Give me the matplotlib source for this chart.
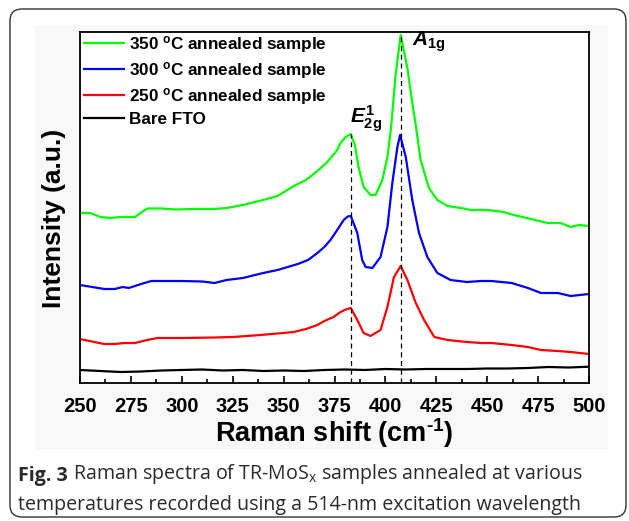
import matplotlib
matplotlib.use("Agg")
import matplotlib.pyplot as plt
from matplotlib.patches import FancyBboxPatch, Rectangle
from matplotlib.ticker import MultipleLocator

plt.rcParams['font.family'] = ['Liberation Sans', 'DejaVu Sans']
plt.rcParams['mathtext.fontset'] = 'custom'
plt.rcParams['mathtext.rm'] = 'Liberation Sans:bold'
plt.rcParams['mathtext.bf'] = 'Liberation Sans:bold'
plt.rcParams['mathtext.it'] = 'Liberation Sans:bold:italic'

# spectra (intensity in arbitrary units)
x_350 = [250, 255, 260, 265, 270, 277, 283, 290, 297, 305, 316, 322, 330, 340, 347,
         355, 361, 366, 371, 376, 378, 380.5, 383, 385, 386.8, 389.3, 392.7, 395.2,
         398.5, 401, 402.9, 405, 407.5, 410.8, 413, 414.9, 417.3, 421.4, 425.5, 430.5,
         437, 442, 450, 458, 463, 471.5, 479.7, 486, 491, 495, 500]
y_350 = [170, 170, 166, 165, 166, 166, 174.5, 174.5, 173.5, 174, 174, 175, 178, 183, 187,
         197, 203, 211, 220, 232, 240, 246, 249, 238, 216, 196, 188, 188,
         203, 226, 258, 308, 348, 315, 283, 258, 223, 195, 183, 177,
         175, 173, 173, 171, 168, 164, 160, 160, 156, 158, 157]

x_300 = [250, 256, 262, 267, 271, 274, 280, 285, 290, 300, 310, 316, 322, 330, 340,
         347, 352, 357, 362, 366.6, 370, 373, 376, 379.5, 381.5, 383, 386.2, 388.6,
         390.3, 393.6, 397.6, 401, 403.4, 405.9, 407.2, 410, 413.2, 416.5, 420.6,
         425.5, 432, 440, 447, 452, 457, 462, 470, 476.4, 484.6, 491, 500]
y_300 = [98, 96, 94, 94, 96, 95, 99, 102, 102, 102, 101.5, 100, 103, 105, 110,
         113, 116, 119, 123, 130, 136, 143, 152, 163, 166.5, 167, 150, 123,
         116, 115, 126, 156, 200, 236, 248, 226, 183, 150, 126,
         110, 103, 101, 102, 102, 101, 100, 95, 90, 90, 87, 89]

x_250 = [250, 257, 262, 267, 272, 277, 283, 288, 300, 316, 325, 338.6, 347, 355, 361,
         366.6, 370, 374.5, 378, 380.5, 383, 386.2, 389.3, 392.7, 397.6, 401, 404.2,
         407.5, 410.8, 414.9, 419, 424, 430.5, 440, 447, 452, 462, 470, 476.4, 484.6,
         491, 500]
y_250 = [44, 41, 39, 39, 40, 40, 43, 45, 45, 45.5, 46, 48, 49.5, 51, 54,
         58, 62, 66, 71, 73.5, 75, 63, 50, 47, 53, 76, 106,
         117, 103, 80, 63, 46, 43, 41, 40, 40, 38, 36, 33, 32,
         31, 29]

x_fto = [250, 260, 270, 280, 290, 300, 310, 320, 330, 340, 350, 360, 370, 380, 390,
         400, 410, 420, 430, 440, 450, 460, 470, 480, 490, 500]
y_fto = [13, 12, 11, 11.5, 12.5, 13, 13.5, 12.5, 13, 12, 12.5, 12, 13, 13.5, 13,
         14, 13.5, 14, 14, 14, 14.5, 14.5, 15, 16, 15.5, 16.3]

series = [
    (x_350, y_350, '#00ff00', '350 $\\mathregular{^{o}}$C annealed sample'),
    (x_300, y_300, '#0000ff', '300 $\\mathregular{^{o}}$C annealed sample'),
    (x_250, y_250, '#ff0000', '250 $\\mathregular{^{o}}$C annealed sample'),
    (x_fto, y_fto, '#000000', 'Bare FTO'),
]

peak_e2g = 382.9
peak_a1g = 407.6

fig = plt.figure(figsize=(6.29, 5.21), dpi=100)

# page frame and caption
bg = fig.add_axes([0, 0, 1, 1])
bg.set_xlim(0, 629)
bg.set_ylim(521, 0)
bg.axis('off')
bg.add_patch(FancyBboxPatch((10, 9), 616, 508, boxstyle='round,pad=0,rounding_size=12',
                            fc='white', ec='#333333', lw=1.0))
bg.add_patch(Rectangle((34, 25), 574, 425, fc='#f8f8f8', ec='none'))

cap_col = '#2a2a2a'
cap1 = bg.text(18, 481, 'Fig. 3', family='Open Sans', fontweight='bold', fontsize=14.1,
               va='baseline', ha='left', color=cap_col)
bg.annotate(' Raman spectra of TR-MoS$_\\mathregular{x}$ samples annealed at various',
            xy=(1, 0), xycoords=cap1, va='bottom', ha='left',
            family='Open Sans', fontsize=14.1, color=cap_col)
bg.text(18, 510, 'temperatures recorded using a 514-nm excitation wavelength',
        family='Open Sans', fontsize=14.1, va='baseline', ha='left', color=cap_col)

ax = fig.add_axes([80 / 629, 1 - 383 / 521, 509 / 629, 351 / 521])
ax.set_facecolor('white')

for xs, ys, col, lab in series:
    ax.plot(xs, ys, color=col, lw=1.6, label=lab)

ax.plot([peak_e2g, peak_e2g], [0, 249], color='black', lw=0.9, ls=(0, (4, 3)))
ax.plot([peak_a1g, peak_a1g], [0, 348], color='black', lw=0.9, ls=(0, (4, 3)))

ax.text(peak_e2g - 0.3, 249, '$\\mathit{E}^{\\mathbf{1}}_{\\mathbf{2g}}$', fontsize=15,
        ha='left', va='bottom')
ax.text(413, 341, '$\\mathit{A}_{\\mathbf{1g}}$', fontsize=15, ha='left', va='center')

ax.set_xlim(250, 500)
ax.set_ylim(0, 351)
ax.xaxis.set_major_locator(MultipleLocator(25))
ax.xaxis.set_minor_locator(MultipleLocator(12.5))
ax.set_yticks([])
ax.tick_params(axis='x', which='major', direction='in', length=5, width=1.2,
               labelsize=14.5, pad=10)
ax.tick_params(axis='x', which='minor', direction='in', length=3, width=1.2)
for lbl in ax.get_xticklabels():
    lbl.set_fontweight('bold')
for sp in ax.spines.values():
    sp.set_linewidth(1.3)

ax.set_xlabel('Raman shift (cm$^{\\text{-1}}$)', fontsize=19.5, fontweight='bold', labelpad=0)
ax.set_ylabel('Intensity (a.u.)', fontsize=19, fontweight='bold')
ax.yaxis.set_label_coords(-0.028, 0.469)

ax.legend(loc='upper left', bbox_to_anchor=(0.004, 1.0), frameon=False,
          prop={'weight': 'bold', 'size': 12.3},
          handlelength=2.35, handletextpad=0.3, labelspacing=0.29,
          borderaxespad=0, borderpad=0.1)

fig.savefig('out.png', dpi=100)
